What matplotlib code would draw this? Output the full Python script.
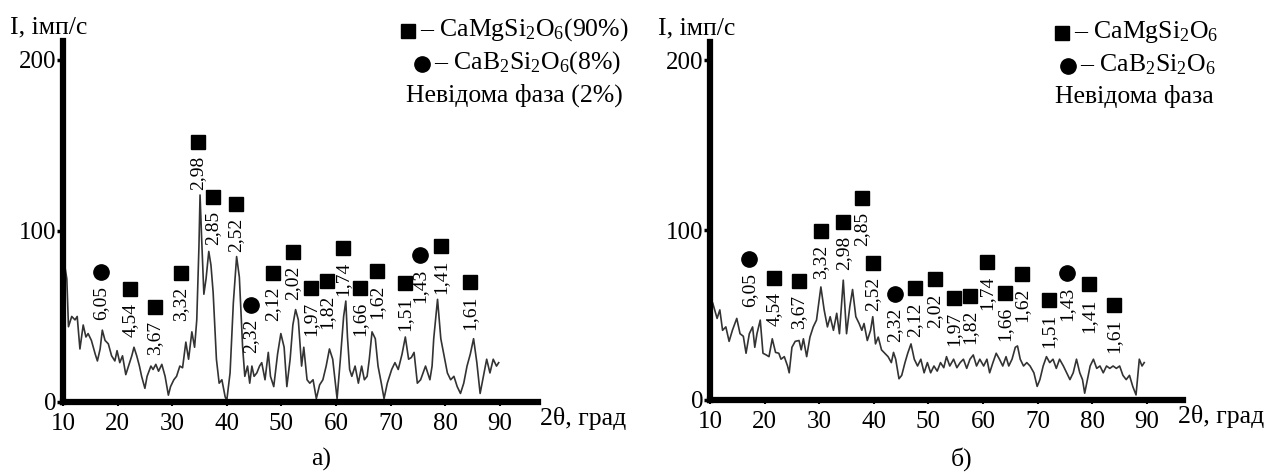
import matplotlib
matplotlib.use("Agg")
import matplotlib.pyplot as plt
import numpy as np

plt.rcParams['font.family'] = ['Liberation Serif', 'DejaVu Serif']
plt.rcParams['mathtext.fontset'] = 'custom'
plt.rcParams['mathtext.rm'] = 'Liberation Serif'
plt.rcParams['mathtext.it'] = 'Liberation Serif:italic'

# ---------------- data: panel a ----------------
two_theta_a = [10.3, 10.7, 11.0, 11.6, 12.2, 12.6, 13.1, 13.7, 14.2, 14.6, 15.2, 15.9, 16.3, 16.8, 17.2, 17.7,
               18.3, 18.9, 19.5, 19.9, 20.4, 20.9, 21.5, 22.0, 22.6, 23.0, 23.5, 24.0, 24.4, 25.0, 25.4, 26.1,
               26.5, 27.0, 27.5, 28.1, 28.7, 29.3, 29.7, 30.3, 30.8, 31.4, 31.9, 32.5, 33.0, 33.6, 34.1, 34.5,
               34.9, 35.1, 35.4, 35.8, 36.2, 36.7, 37.1, 37.5, 38.1, 38.6, 39.1, 39.7, 40.0, 40.6, 41.2, 41.8,
               42.3, 42.9, 43.3, 43.8, 44.2, 44.6, 45.0, 45.5, 46.0, 46.4, 47.0, 47.6, 48.0, 48.6, 49.3, 49.9,
               50.5, 51.0, 51.6, 52.1, 52.6, 53.1, 53.7, 54.1, 54.7, 55.2, 55.8, 56.4, 57.0, 57.6, 58.2, 58.8,
               59.4, 60.2, 60.8, 61.4, 61.8, 62.1, 62.5, 62.9, 63.5, 64.1, 64.7, 65.2, 65.7, 66.1, 66.6, 67.2,
               67.7, 68.3, 68.8, 69.4, 70.2, 70.8, 71.4, 72.1, 72.7, 73.3, 73.8, 74.3, 74.9, 75.5, 76.4, 77.2,
               77.6, 77.9, 78.6, 79.2, 79.8, 80.4, 81.0, 81.6, 82.2, 82.8, 83.4, 84.0, 84.6, 85.2, 85.8, 86.4,
               87.0, 87.6, 88.2, 88.8, 89.4, 89.8]
intensity_a = [80, 72, 44, 50, 48, 50, 31, 45, 38, 40, 36, 28, 24, 31, 42, 36,
               34, 27, 24, 30, 23, 27, 16, 21, 27, 32, 27, 21, 15, 8, 15, 21,
               19, 22, 18, 22, 15, 4, 9, 13, 15, 21, 20, 35, 25, 41, 32, 48,
               91, 121, 95, 63, 72, 88, 80, 64, 25, 11, 13, 3, 1, 17, 58, 85,
               73, 32, 15, 21, 11, 21, 15, 17, 21, 23, 13, 29, 15, 9, 28, 40,
               32, 9, 25, 45, 54, 48, 21, 32, 13, 11, 13, 2, 10, 13, 21, 31,
               25, 2, 25, 50, 59, 38, 19, 15, 21, 11, 21, 13, 15, 25, 41, 37,
               21, 11, 2, 11, 19, 23, 19, 28, 38, 25, 26, 29, 11, 13, 21, 13,
               21, 37, 60, 37, 27, 17, 13, 15, 9, 5, 11, 21, 28, 37, 23, 5,
               15, 25, 17, 25, 21, 23]

peak_x_a = [17.0, 22.3, 26.8, 31.6, 34.7, 37.5, 41.7, 44.4, 48.5, 52.1, 55.4, 58.4, 61.3, 64.4, 67.5, 72.6, 75.4, 79.2, 84.5]
peak_y_a = [76, 66, 55.6, 75.4, 152, 120, 116, 56.7, 75.4, 87.7, 66.7, 70.8, 90, 66.7, 76.6, 69.6, 86, 91.2, 70.2]
peak_lbl_a = ['6,05', '4,54', '3,67', '3,32', '2,98', '2,85', '2,52', '2,32', '2,12', '2,02', '1,97', '1,82',
              '1,74', '1,66', '1,62', '1,51', '1,43', '1,41', '1,61']
peak_mk_a = ['o', 's', 's', 's', 's', 's', 's', 'o', 's', 's', 's', 's', 's', 's', 's', 's', 'o', 's', 's']

# ---------------- data: panel b ----------------
two_theta_b = [10.5, 11.3, 11.8, 12.3, 12.9, 13.5, 14.1, 14.9, 15.5, 16.1, 16.6, 17.2, 17.8, 18.2, 18.6, 19.2,
               19.7, 20.3, 20.8, 21.4, 22.0, 22.6, 23.0, 23.6, 24.2, 24.5, 25.0, 25.6, 26.3, 26.7, 27.1, 27.7,
               28.3, 28.9, 29.5, 30.3, 30.9, 31.5, 32.0, 32.6, 33.2, 33.7, 34.4, 35.0, 35.6, 36.1, 36.7, 37.3,
               37.8, 38.2, 38.8, 39.4, 39.8, 40.3, 40.8, 41.4, 42.0, 42.6, 43.2, 43.6, 44.0, 44.6, 45.1, 45.7,
               46.2, 46.8, 47.4, 48.0, 48.6, 49.2, 49.8, 50.4, 51.0, 51.6, 52.2, 52.8, 53.3, 53.9, 54.6, 55.2,
               55.8, 56.4, 57.0, 57.6, 58.2, 58.8, 59.4, 60.1, 60.7, 61.2, 61.8, 62.4, 63.0, 63.6, 64.2, 64.7,
               65.3, 65.9, 66.3, 66.8, 67.4, 68.0, 68.6, 69.3, 69.9, 70.4, 71.0, 71.6, 72.2, 72.8, 73.4, 74.0,
               74.7, 75.3, 75.9, 76.5, 77.1, 77.7, 78.2, 78.6, 79.1, 79.6, 80.2, 80.8, 81.4, 82.0, 82.6, 83.2,
               83.8, 84.4, 85.0, 85.6, 86.2, 86.8, 87.4, 88.0, 88.6, 89.1, 89.5]
intensity_b = [57, 48, 53, 41, 43, 34.5, 41, 48, 39, 37.5, 27.5, 39, 43, 31, 39, 47,
               27.5, 26.5, 25.5, 36, 28, 27.5, 24, 25.5, 20, 16, 31, 34.5, 35, 29.5, 36, 25.5,
               37, 43, 47, 66.5, 53, 43, 49, 41, 51, 39, 70.5, 39, 55, 65, 49, 45,
               41, 45, 35, 41, 49, 33, 37, 29.5, 27.5, 25.5, 22, 28, 24, 12.5, 14.5, 22,
               27.5, 33, 24, 20, 24, 16, 22, 16, 20, 17, 22, 19, 25.5, 20, 24, 19,
               22, 24, 18.6, 24, 26.5, 20, 24, 20, 24, 16, 22, 27.5, 24, 20, 25.5, 20,
               24, 31, 31.8, 24, 20, 22, 20, 16, 8, 12, 20, 25.5, 22, 24, 18.6, 24,
               20, 16, 12, 16, 24, 16, 12, 4, 12, 20, 24, 18.6, 20, 16, 20, 18.6,
               20, 18.6, 20, 14.5, 12, 14.5, 8, 3, 24, 20, 22]

peak_x_b = [17.2, 21.7, 26.3, 30.3, 34.4, 37.8, 39.8, 43.9, 47.5, 51.2, 54.7, 57.6, 60.7, 64.0, 67.1, 72.1, 75.4, 79.3, 84.0]
peak_y_b = [83, 71.6, 70.2, 99.4, 105, 119, 80.4, 62.4, 65.7, 71, 59.8, 61.2, 81.4, 63, 74, 58.8, 74.5, 68, 55.9]
peak_lbl_b = ['6,05', '4,54', '3,67', '3,32', '2,98', '2,85', '2,52', '2,32', '2,12', '2,02', '1,97', '1,82',
              '1,74', '1,66', '1,62', '1,51', '1,43', '1,41', '1,61']
peak_mk_b = ['o', 's', 's', 's', 's', 's', 's', 'o', 's', 's', 's', 's', 's', 's', 's', 's', 'o', 's', 's']

x_ticks = [10, 20, 30, 40, 50, 60, 70, 80, 90]
y_ticks = [0, 100, 200]

legend_a = ['– CaMgSi$_2$O$_6$(90%)', '– CaB$_2$Si$_2$O$_6$(8%)', 'Невідома фаза (2%)']
legend_b = ['– CaMgSi$_2$O$_6$', '– CaB$_2$Si$_2$O$_6$', 'Невідома фаза']

W, H = 1272, 476
fig = plt.figure(figsize=(W / 100, H / 100), dpi=100)


def px_rect(l, t, r, b):
    return [l / W, 1 - b / H, (r - l) / W, (b - t) / H]


def draw_panel(rect, xlim, ylim, xs, ys, px, py, lbls, mks):
    ax = fig.add_axes(rect)
    ax.plot(xs, ys, color='#333333', lw=1.2)
    for x, y, l, m in zip(px, py, lbls, mks):
        ax.plot([x], [y], marker=m, color='black', ms=10 if m == 's' else 11, ls='none')
        ax.annotate(l, xy=(x, y), xytext=(0, -10), textcoords='offset points', rotation=90,
                    ha='center', va='top', fontsize=14)
    ax.set_xlim(*xlim)
    ax.set_ylim(*ylim)
    for s in ['top', 'right']:
        ax.spines[s].set_visible(False)
    for s in ['left', 'bottom']:
        ax.spines[s].set_linewidth(4.5)
    ax.set_xticks(x_ticks)
    ax.set_yticks(y_ticks)
    ax.tick_params(axis='y', direction='out', length=4, width=2.5, labelsize=18, pad=1)
    ax.tick_params(axis='x', direction='out', length=3, width=1.5, labelsize=18, pad=5)
    return ax


axa = draw_panel(px_rect(63, 41, 538, 402), (10, 97.0), (0, 211), two_theta_a, intensity_a,
                 peak_x_a, peak_y_a, peak_lbl_a, peak_mk_a)
axb = draw_panel(px_rect(710, 42, 1183, 400), (10, 96.6), (0, 210.6), two_theta_b, intensity_b,
                 peak_x_b, peak_y_b, peak_lbl_b, peak_mk_b)

# overlay for annotation text in pixel coordinates
ov = fig.add_axes([0, 0, 1, 1])
ov.set_xlim(0, W)
ov.set_ylim(H, 0)
ov.axis('off')
ov.patch.set_alpha(0)

fs = 18.5
ov.text(10, 27, 'I, імп/с', fontsize=fs, ha='left', va='center')
ov.text(658, 28, 'I, імп/с', fontsize=fs, ha='left', va='center')
ov.text(540, 419, '2θ, град', fontsize=fs, ha='left', va='center')
ov.text(1178, 417, '2θ, град', fontsize=fs, ha='left', va='center')
ov.text(321, 459, 'а)', fontsize=fs, ha='center', va='center')
ov.text(962, 459, 'б)', fontsize=fs, ha='center', va='center')

# legend a
ov.plot([408], [31], marker='s', color='black', ms=10, ls='none')
ov.text(420, 30, legend_a[0], fontsize=fs, ha='left', va='center')
ov.plot([422], [64], marker='o', color='black', ms=11, ls='none')
ov.text(434, 63, legend_a[1], fontsize=fs, ha='left', va='center')
ov.text(623, 95, legend_a[2], fontsize=fs, ha='right', va='center')

# legend b
ov.plot([1062], [33], marker='s', color='black', ms=10, ls='none')
ov.text(1074, 32, legend_b[0], fontsize=fs, ha='left', va='center')
ov.plot([1068], [66], marker='o', color='black', ms=11, ls='none')
ov.text(1080, 65, legend_b[1], fontsize=fs, ha='left', va='center')
ov.text(1134, 97, legend_b[2], fontsize=fs, ha='center', va='center')

fig.savefig('out.png', dpi=100)
